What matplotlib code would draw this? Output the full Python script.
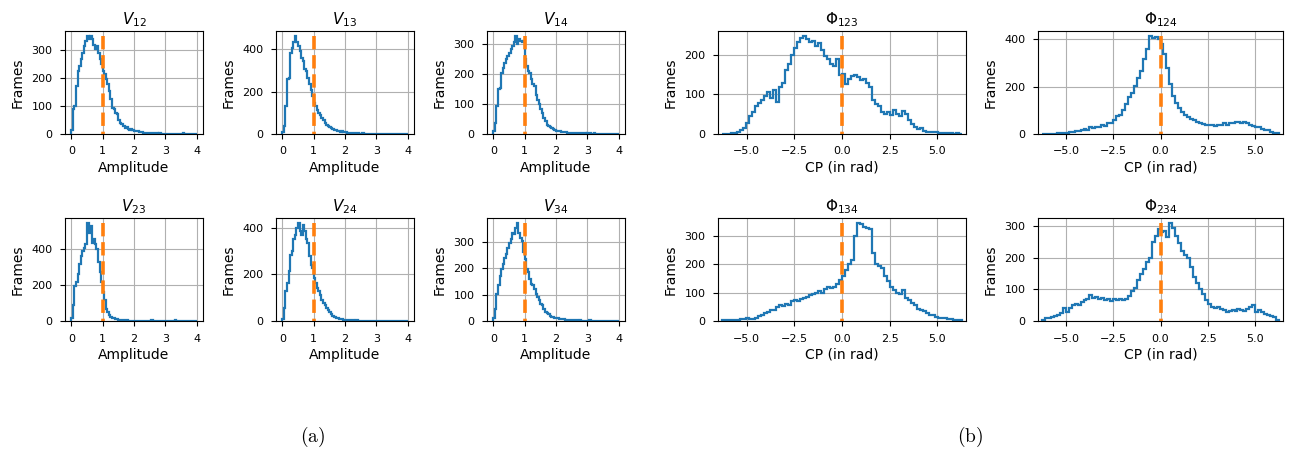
import numpy as np
import matplotlib
matplotlib.use('Agg')
import matplotlib.pyplot as plt

# histogram counts (amplitude bins of 0.05 from 0 to 4)
amp_bin = 0.05
v12 = [15, 88, 100, 172, 225, 245, 270, 290, 315, 335,
       352, 340, 350, 342, 318, 305, 314, 292, 268, 250,
       226, 214, 196, 178, 154, 124, 94, 88, 76, 70,
       52, 40, 37, 30, 22, 25, 18, 16, 18, 13,
       12, 10, 9, 7, 8, 6, 5, 5, 4, 3,
       3, 4, 2, 3, 2, 1, 2, 1, 1, 0,
       1, 0, 0, 0, 0, 0, 0, 0, 0, 0,
       0, 3, 0, 0, 0, 0, 0, 0, 0, 0]
v13 = [10, 36, 131, 258, 265, 384, 408, 432, 463, 432,
       416, 392, 360, 345, 305, 297, 265, 234, 210, 179,
       147, 131, 115, 100, 92, 76, 68, 52, 44, 36,
       33, 28, 24, 20, 17, 16, 13, 11, 13, 10,
       8, 7, 6, 5, 6, 4, 3, 4, 3, 2,
       2, 3, 2, 1, 2, 1, 1, 2, 1, 0,
       1, 0, 0, 1, 0, 0, 0, 0, 0, 0,
       0, 0, 0, 0, 0, 0, 0, 0, 0, 0]
v14 = [10, 37, 93, 149, 155, 205, 222, 238, 250, 261,
       272, 283, 294, 306, 328, 300, 317, 311, 306, 311,
       250, 227, 210, 205, 183, 166, 160, 132, 115, 99,
       82, 71, 54, 43, 31, 28, 24, 20, 17, 12,
       11, 10, 9, 8, 7, 6, 6, 5, 4, 5,
       4, 3, 3, 4, 2, 3, 2, 2, 3, 1,
       2, 2, 1, 1, 2, 1, 1, 0, 1, 1,
       0, 1, 0, 1, 1, 0, 1, 0, 1, 0]
v23 = [15, 87, 196, 215, 260, 315, 360, 387, 405, 424,
       542, 487, 524, 433, 451, 424, 396, 324, 269, 215,
       160, 115, 69, 51, 33, 24, 18, 15, 11, 12,
       8, 6, 7, 4, 3, 3, 2, 2, 1, 1,
       1, 1, 0, 1, 0, 0, 0, 0, 0, 0,
       0, 4, 0, 0, 0, 0, 0, 0, 0, 0,
       0, 0, 0, 0, 0, 0, 5, 0, 0, 0,
       0, 0, 0, 0, 0, 0, 0, 0, 0, 0]
v24 = [10, 55, 127, 163, 213, 285, 299, 350, 371, 400,
       421, 386, 371, 414, 386, 350, 335, 278, 242, 227,
       184, 163, 141, 127, 112, 91, 76, 69, 55, 47,
       37, 29, 23, 19, 14, 12, 10, 9, 8, 6,
       5, 6, 4, 4, 3, 3, 2, 3, 2, 2,
       2, 1, 1, 2, 1, 1, 0, 1, 1, 0,
       1, 0, 1, 1, 0, 0, 1, 0, 0, 1,
       0, 0, 1, 0, 0, 0, 0, 0, 0, 0]
v34 = [10, 47, 104, 135, 172, 197, 216, 240, 254, 278,
       297, 310, 335, 329, 354, 372, 335, 316, 304, 260,
       235, 197, 185, 160, 141, 135, 122, 104, 91, 79,
       66, 60, 47, 35, 29, 25, 19, 16, 15, 12,
       11, 10, 8, 8, 6, 6, 5, 4, 4, 3,
       3, 2, 2, 2, 1, 2, 1, 1, 1, 0,
       1, 2, 1, 1, 0, 1, 0, 1, 0, 1,
       0, 1, 0, 0, 1, 0, 0, 1, 0, 0]

# closure phase counts, 80 bins over [-2pi, 2pi]
cp123 = [0, 0, 1, 2, 3, 6, 10, 15, 28, 45,
         55, 72, 78, 85, 95, 105, 92, 110, 82, 118,
         128, 162, 178, 200, 218, 232, 242, 248, 240, 232,
         236, 222, 230, 212, 196, 190, 178, 172, 190, 150,
         152, 126, 140, 146, 148, 144, 136, 140, 130, 120,
         85, 76, 70, 56, 50, 55, 48, 60, 50, 45,
         58, 50, 36, 26, 18, 12, 15, 8, 5, 6,
         4, 5, 3, 2, 3, 2, 3, 1, 2, 0]
cp124 = [2, 0, 1, 1, 2, 4, 5, 6, 6, 8,
         10, 11, 13, 16, 20, 18, 28, 25, 30, 28,
         38, 35, 45, 48, 60, 75, 82, 100, 125, 155,
         172, 205, 235, 265, 318, 360, 415, 405, 412, 400,
         380, 340, 280, 210, 160, 130, 110, 95, 80, 72,
         65, 58, 50, 45, 42, 40, 38, 40, 35, 40,
         38, 45, 40, 45, 48, 50, 52, 48, 52, 45,
         40, 35, 30, 28, 22, 18, 15, 10, 5, 3]
cp134 = [3, 3, 2, 2, 3, 5, 6, 8, 10, 6,
         8, 12, 18, 22, 28, 32, 40, 38, 48, 55,
         52, 60, 58, 70, 75, 70, 78, 82, 85, 90,
         95, 100, 105, 100, 112, 120, 115, 120, 130, 145,
         160, 180, 200, 215, 300, 345, 340, 330, 328, 325,
         240, 200, 195, 185, 160, 140, 120, 108, 100, 95,
         110, 80, 75, 65, 55, 42, 38, 35, 28, 22,
         20, 15, 12, 10, 12, 8, 6, 5, 4, 2]
cp234 = [3, 8, 10, 12, 15, 18, 25, 40, 30, 42,
         50, 55, 52, 60, 65, 70, 82, 72, 75, 70,
         72, 65, 70, 62, 68, 65, 70, 65, 68, 80,
         95, 105, 130, 150, 165, 185, 200, 250, 270, 290,
         280, 285, 265, 310, 295, 270, 245, 220, 210, 200,
         170, 140, 120, 100, 85, 65, 55, 45, 40, 45,
         38, 35, 30, 32, 35, 32, 38, 35, 32, 38,
         45, 52, 30, 35, 28, 22, 18, 15, 12, 3]

amp_titles = [r'$V_{12}$', r'$V_{13}$', r'$V_{14}$', r'$V_{23}$', r'$V_{24}$', r'$V_{34}$']
amp_counts = [v12, v13, v14, v23, v24, v34]
cp_titles = [r'$\Phi_{123}$', r'$\Phi_{124}$', r'$\Phi_{134}$', r'$\Phi_{234}$']
cp_counts = [cp123, cp124, cp134, cp234]

W, H = 1289, 451
fig = plt.figure(figsize=(W / 100, H / 100), dpi=100)


def add_ax(x0, y0, x1, y1):
    # axes placed by pixel box of the reference
    return fig.add_axes([x0 / W, 1 - y1 / H, (x1 - x0) / W, (y1 - y0) / H])


def style(ax, title, xlabel):
    ax.set_title(title, fontsize=11, pad=5)
    ax.set_xlabel(xlabel, fontsize=10, labelpad=3)
    ax.set_ylabel('Frames', fontsize=10, labelpad=5)
    ax.tick_params(labelsize=8, pad=5.5)
    ax.grid(True)
    ax.set_axisbelow(True)


def marker_line(ax, x, top):
    # dashed reference line, drawn top-down so the pattern starts at the peak
    ax.vlines(x, top, 0, colors='tab:orange', linestyles='--', linewidth=2.6)


amp_cols = [(65, 203), (276, 414), (487, 625)]
cp_cols = [(718, 966), (1038, 1283)]
rows = [(31, 134), (218, 321)]

for i, (counts, title) in enumerate(zip(amp_counts, amp_titles)):
    counts = np.array(counts)
    x0, x1 = amp_cols[i % 3]
    y0, y1 = rows[i // 3]
    ax = add_ax(x0, y0, x1, y1)
    edges = np.arange(len(counts) + 1) * amp_bin
    ax.stairs(counts, edges, color='tab:blue', linewidth=1.6)
    marker_line(ax, 1, counts.max())
    ax.set_xlim(-0.2, 4.2)
    ax.set_xticks([0, 1, 2, 3, 4])
    style(ax, title, 'Amplitude')

for i, (counts, title) in enumerate(zip(cp_counts, cp_titles)):
    counts = np.array(counts)
    x0, x1 = cp_cols[i % 2]
    y0, y1 = rows[i // 2]
    ax = add_ax(x0, y0, x1, y1)
    edges = np.linspace(-2 * np.pi, 2 * np.pi, len(counts) + 1)
    ax.stairs(counts, edges, color='tab:blue', linewidth=1.6)
    marker_line(ax, 0, counts.max())
    ax.set_xlim(-6.5, 6.5)
    ax.set_xticks([-5, -2.5, 0, 2.5, 5])
    style(ax, title, 'CP (in rad)')

plt.rcParams['mathtext.fontset'] = 'cm'
fig.text(313 / W, 1 - 437 / H, r'$\mathrm{(a)}$', ha='center', va='center', fontsize=14)
fig.text(970 / W, 1 - 437 / H, r'$\mathrm{(b)}$', ha='center', va='center', fontsize=14)

fig.savefig('out.png', dpi=100)
